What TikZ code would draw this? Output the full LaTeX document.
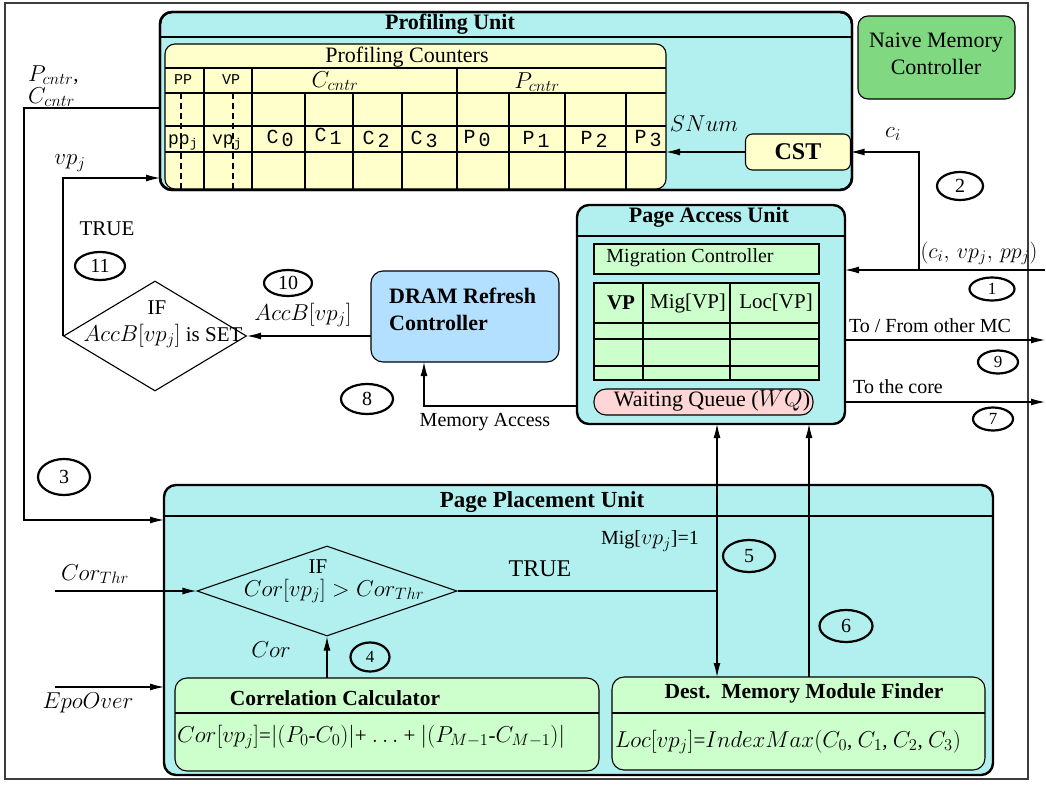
\RequirePackage{fix-cm}
\documentclass[tikz,border=0pt]{standalone}
\usepackage{fontspec}
\setmainfont{Liberation Serif}
\setmonofont{Liberation Mono}
\usetikzlibrary{arrows.meta,shapes.geometric}

% math is set a little larger than the surrounding text
\DeclareMathSizes{20}{22}{16}{12}
\DeclareMathSizes{21}{23}{16.5}{12.5}
\DeclareMathSizes{22}{24}{17}{13}

\definecolor{unitcyan}{RGB}{178,240,240}
\definecolor{cntyellow}{RGB}{255,255,204}
\definecolor{lightgreen}{RGB}{204,255,204}
\definecolor{mcgreen}{RGB}{128,216,128}
\definecolor{drambl}{RGB}{179,224,255}
\definecolor{wqpink}{RGB}{255,214,214}
\definecolor{framegray}{RGB}{60,60,60}

\newcommand{\fs}[2]{\fontsize{#1}{#2}\selectfont}
\newcommand{\cnt}[2]{\texttt{#1}\hspace{3pt}\raisebox{-3pt}{\texttt{#2}}}

\begin{document}
\begin{tikzpicture}[x=1pt,y=-1pt,
  every node/.style={font=\fs{21}{25}},
  unitbox/.style={draw, line width=2.4pt, fill=unitcyan, rounded corners=12pt,
                  inner sep=0pt, outer sep=0pt, anchor=north west},
  rbox/.style={draw, line width=1.1pt, rounded corners=10pt, inner sep=0pt,
               outer sep=0pt, anchor=north west},
  flatbox/.style={draw, line width=1.1pt, inner sep=0pt, outer sep=0pt, anchor=north west},
  ttl/.style={font=\bfseries\fs{22}{26}},
  tbl/.style={line width=1.1pt},
  sepline/.style={line width=2.2pt},
  conn/.style={line width=1.1pt, -{Latex[length=14pt,width=7pt]}},
  wire/.style={line width=1.1pt},
  stepnum/.style={ellipse, draw, line width=2.2pt, inner sep=0pt, font=\fs{20}{20}},
  smallnum/.style={stepnum, font=\fs{17}{17}},
  cntc/.style={font=\fs{20}{20}, inner sep=0pt},
  hdr/.style={font=\ttfamily\fs{15}{15}, inner sep=0pt},
]
\useasboundingbox (0,0) rectangle (1046,784);
\fill[white] (0,0) rectangle (1046,784);
\draw[line width=1.4pt, framegray] (5,3) rectangle (1028,779);

% ---------------- Profiling Unit ----------------
\node[unitbox, minimum width=692, minimum height=178] (pu) at (160,12) {};
\draw[sepline] (160,37) -- (852,37);
\node[ttl] (putitle) at (450,24) {Profiling Unit};

\node[rbox, fill=cntyellow, minimum width=501, minimum height=145] (pc) at (165,44) {};
\foreach \y in {68,93,126,152} \draw[tbl] (165,\y) -- (666,\y);
\foreach \x in {204,252,457} \draw[tbl] (\x,68) -- (\x,189);
\foreach \x in {305,353,402,509,565,626} \draw[tbl] (\x,93) -- (\x,189);
\draw[tbl, dash pattern=on 6pt off 4pt] (181,93) -- (181,189);
\draw[tbl, dash pattern=on 6pt off 4pt] (233,93) -- (233,189);
\draw[line width=2.4pt, rounded corners=12pt] (pu.north west) rectangle (pu.south east);

\node[font=\fs{22}{26}] (pctitle) at (407,57) {Profiling Counters};
\node[hdr] (hpp) at (183,80) {PP};
\node[hdr] (hvp) at (231,80) {VP};
\node (hc) at (335,81) {$C_{cntr}$};
\node (hp) at (537,82) {$P_{cntr}$};
\node[font=\ttfamily\fs{18}{18}, inner sep=0pt] (ppj) at (183,142) {pp$_{\mathtt{j}}$};
\node[font=\ttfamily\fs{18}{18}, inner sep=0pt] (vpj) at (227,142) {vp$_{\mathtt{j}}$};
\node[cntc] (c0) at (280,138) {\cnt{C}{0}};
\node[cntc] (c1) at (328,136) {\cnt{C}{1}};
\node[cntc] (c2) at (376,139) {\cnt{C}{2}};
\node[cntc] (c3) at (424,139) {\cnt{C}{3}};
\node[cntc] (p0) at (477,139) {\cnt{P}{0}};
\node[cntc] (p1) at (536,139) {\cnt{P}{1}};
\node[cntc] (p2) at (594,139) {\cnt{P}{2}};
\node[cntc] (p3) at (648,139) {\cnt{P}{3}};

\node[rbox, anchor=center, fill=cntyellow, rounded corners=7pt, minimum width=105,
      minimum height=36, font=\bfseries\fs{24}{24}] (cst) at (798,152) {CST};
\node (snum) at (704,124) {$SNum$};

% ---------------- Naive memory controller ----------------
\node[rbox, fill=mcgreen, minimum width=157, minimum height=83] (nmc) at (858,16) {};
\node[font=\fs{22}{27}, align=center] (nmctxt) at (936,54) {Naive Memory\\Controller};

% ---------------- Page Access Unit ----------------
\node[unitbox, minimum width=268, minimum height=219] (pau) at (577,205) {};
\draw[sepline] (577,236) -- (845,236);
\node[ttl] (pautitle) at (709,217) {Page Access Unit};
\node[flatbox, fill=lightgreen, minimum width=225, minimum height=30] (migc) at (594,244) {};
\node[font=\fs{20}{24}] (migtxt) at (690,258) {Migration Controller};
\node[flatbox, fill=lightgreen, minimum width=225, minimum height=97] (vptab) at (594,283) {};
\foreach \y in {323,339,366} \draw[tbl] (594,\y) -- (819,\y);
\foreach \x in {643,730} \draw[tbl] (\x,283) -- (\x,380);
\node[font=\bfseries\fs{21}{25}] (tvp) at (621,303) {VP};
\node (tmig) at (688,303) {Mig[VP]};
\node (tloc) at (776,303) {Loc[VP]};
\node[flatbox, fill=wqpink, rounded corners=12pt, minimum width=219, minimum height=26] (wq) at (594,389) {};
\node[font=\fs{22}{26}] (wqtxt) at (712,401) {Waiting Queue ($WQ$)};

% ---------------- DRAM refresh controller ----------------
\node[rbox, fill=drambl, rounded corners=12pt, minimum width=188, minimum height=91] (dram) at (371,271) {};
\node[font=\bfseries\fs{22}{26}, anchor=base west, inner sep=0pt] (dram1) at (389,303) {DRAM Refresh};
\node[font=\bfseries\fs{22}{26}, anchor=base west, inner sep=0pt] (dram2) at (389,330) {Controller};

% ---------------- AccB decision ----------------
\node[diamond, draw, line width=1.1pt, minimum width=183, minimum height=110, inner sep=0pt] (acc) at (155,336) {};
\node (accif) at (157,308) {IF};
\node (acctxt) at (163,336) {$AccB[vp_j]$ is SET};

% ---------------- Page Placement Unit ----------------
\node[unitbox, minimum width=829, minimum height=290] (ppu) at (164,485) {};
\draw[sepline] (164,516) -- (993,516);
\node[font=\bfseries\fs{23}{27}] (pputitle) at (542,502) {Page Placement Unit};

\node[diamond, draw, line width=1.1pt, minimum width=260, minimum height=90, inner sep=0pt] (cor) at (327,591) {};
\node (corif) at (318,567) {IF};
\node (cortxt) at (334,591) {$Cor[vp_j] > Cor_{Thr}$};

\node[rbox, fill=lightgreen, rounded corners=12pt, minimum width=424, minimum height=93] (cc) at (175,678) {};
\draw[tbl] (175,713) -- (599,713);
\node[font=\bfseries\fs{21.5}{25}] (cctitle) at (335,698) {Correlation Calculator};
\node[anchor=west, inner sep=0pt] (ccform) at (177,737)
  {$Cor[vp_j]$=$|(P_0$-$C_0)|$+ $\ldots$ + $|(P_{M-1}$-$C_{M-1})|$};

\node[rbox, fill=lightgreen, rounded corners=12pt, minimum width=373, minimum height=93] (dmmf) at (612,677) {};
\draw[tbl] (612,713) -- (985,713);
\node[font=\bfseries\fs{21.5}{25}] (dmtitle) at (804,693) {Dest.\ \ Memory Module Finder};
\node (dmform) at (788,742) {$Loc[vp_j]$=$IndexMax(C_0$, $C_1$, $C_2$, $C_3)$};

% ---------------- connectors ----------------
\coordinate (inR) at (1045,270);
\coordinate (jn2) at (919,270);
\coordinate (outMC) at (1045,340);
\coordinate (outCore) at (1045,402);
\coordinate (maC) at (424,406);
\coordinate (vpY) at (63,178);
\coordinate (pcA) at (24,108);
\coordinate (pcB) at (24,520);
\coordinate (thrIn) at (55,591);
\coordinate (epoIn) at (55,687);
\coordinate (j5) at (717,591);
\coordinate (j6) at (809,600);

\draw[conn] (inR) -- (inR -| pau.east);
\draw[conn] (jn2) |- (cst.east);
\draw[conn] (cst.west) -- (cst.west -| pc.east);
\draw[conn] (outMC -| pau.east) -- (outMC);
\draw[conn] (outCore -| pau.east) -- (outCore);
\draw[conn] (acc.east -| dram.west) -- (acc.east);
\draw[conn] (maC -| pau.west) -| (maC |- dram.south);
\draw[conn] (acc.west) |- (vpY -| pu.west);
\draw[conn] (pcA -| pu.west) -- (pcA) -- (pcB) -- (pcB -| ppu.west);
\draw[conn] (thrIn) -- (cor.west);
\draw[conn] (epoIn) -- (epoIn -| ppu.west);
\draw[conn] (cc.north -| cor.south) -- (cor.south);
\draw[wire] (cor.east) -- (j5);
\draw[line width=1.1pt, {Latex[length=14pt,width=7pt]}-{Latex[length=14pt,width=7pt]}]
  (j5 |- pau.south) -- (j5 |- dmmf.north);
\draw[conn] (j6 |- dmmf.north) -- (j6 |- pau.south);

% ---------------- labels ----------------
\node[anchor=west, inner sep=0pt] (lpc) at (28,75) {$P_{cntr}$,};
\node[anchor=west, inner sep=0pt] (lcc) at (28,97) {$C_{cntr}$};
\node (lvp) at (70,163) {$vp_j$};
\node (ltrue1) at (107,229) {TRUE};
\node (lacc) at (303,315) {$AccB[vp_j]$};
\node[font=\fs{20}{24}] (lma) at (485,422) {Memory Access};
\node (lci) at (893,134) {$c_i$};
\node[font=\fs{20}{24}] (ltuple) at (979,253) {$(c_i,\, vp_j,\, pp_j)$};
\node[font=\fs{20}{24}] (lmc) at (930,326) {To / From other MC};
\node[font=\fs{20}{24}] (lcore) at (898,387) {To the core};
\node (lthr) at (95,574) {$Cor_{Thr}$};
\node (lepo) at (88,703) {$EpoOver$};
\node (lcor) at (271,650) {$Cor$};
\node[font=\fs{24}{28}] (ltrue2) at (540,569) {TRUE};
\node[font=\fs{20}{24}] (lmig) at (650,541) {Mig[$vp_j$]=1};

% ---------------- step numbers ----------------
\node[smallnum, minimum width=45, minimum height=23] (n1) at (992,289) {1};
\node[stepnum, minimum width=46, minimum height=28] (n2) at (960,186) {2};
\node[stepnum, minimum width=52, minimum height=36] (n3) at (64,477) {3};
\node[smallnum, minimum width=39, minimum height=29] (n4) at (370,657) {4};
\node[stepnum, minimum width=52, minimum height=32] (n5) at (749,556) {5};
\node[stepnum, minimum width=53, minimum height=32] (n6) at (846,626) {6};
\node[smallnum, minimum width=40, minimum height=23] (n7) at (993,419) {7};
\node[stepnum, minimum width=52, minimum height=30] (n8) at (367,399) {8};
\node[smallnum, minimum width=40, minimum height=23] (n9) at (998,362) {9};
\node[stepnum, minimum width=48, minimum height=26] (n10) at (288,283) {10};
\node[stepnum, minimum width=50, minimum height=28] (n11) at (100,266) {11};
\end{tikzpicture}
\end{document}
